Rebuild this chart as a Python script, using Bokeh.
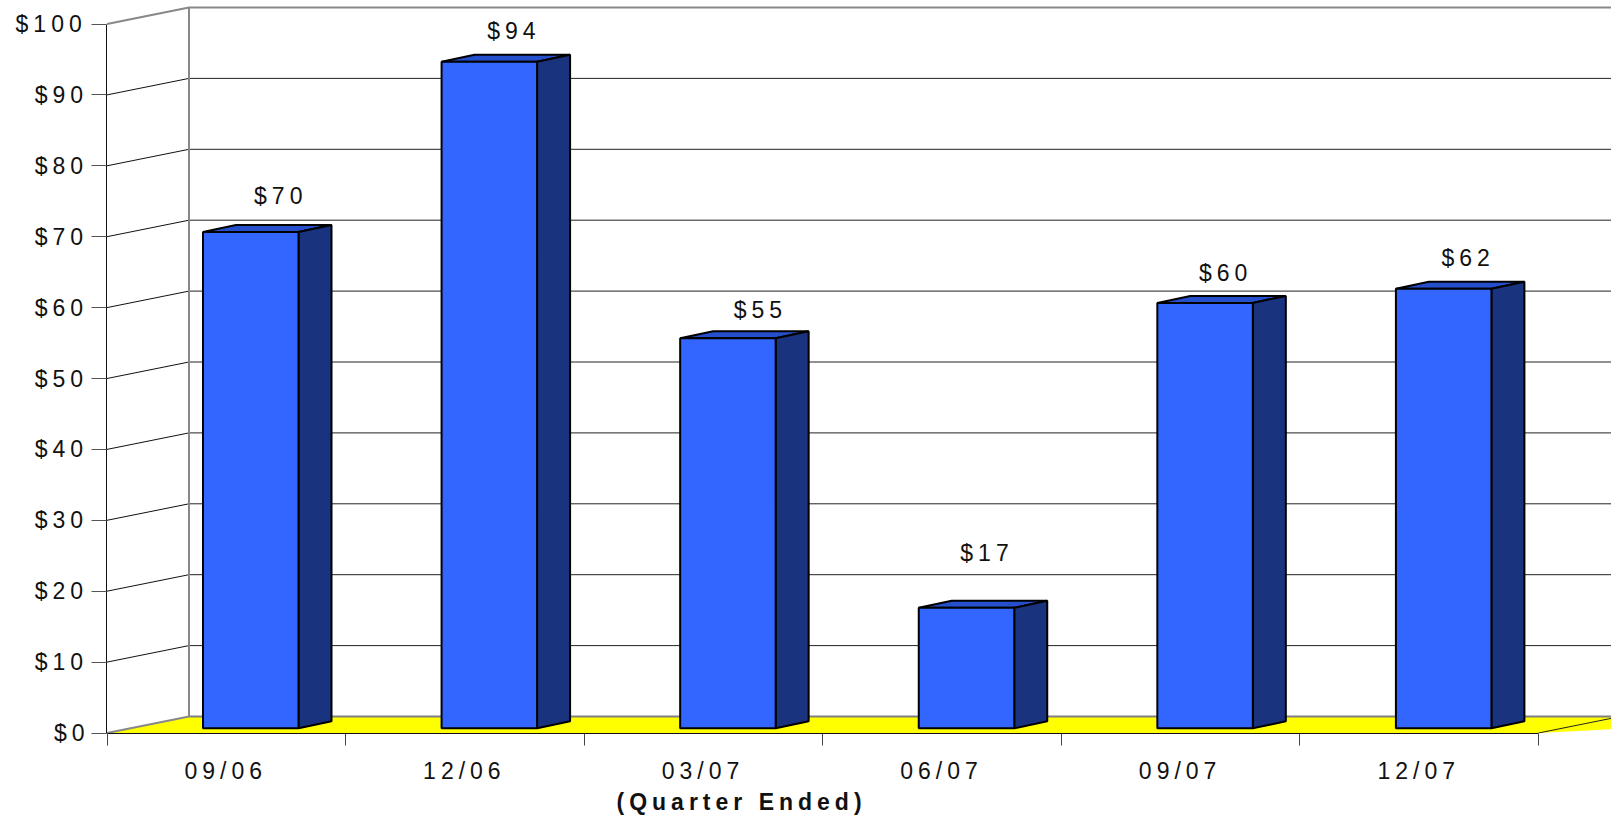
from bokeh.embed import file_html
from bokeh.models import ColumnDataSource, FixedTicker, Range1d, Title
from bokeh.plotting import figure
from bokeh.resources import INLINE
from bokeh.core.properties import value

# Quarterly values, in dollars
quarters = ["09/06", "12/06", "03/07", "06/07", "09/07", "12/07"]
amounts = [70, 94, 55, 17, 60, 62]
value_ticks = [0, 10, 20, 30, 40, 50, 60, 70, 80, 90, 100]

# Page geometry and the oblique projection, in screen pixels
W, H = 1611, 818
LEFT, BASE, TOP = 106.5, 732.5, 23.5
PX_X = (1538.0 - LEFT) / 6
PX_Y = (BASE - TOP) / 100
WALL_DX, WALL_DY = 82 / PX_X, 16.5 / PX_Y
BAR_DX, BAR_DY = 33 / PX_X, 7 / PX_Y
BAR_X0, BAR_W, BAR_Y0 = 96 / PX_X, 95.5 / PX_X, 4.7 / PX_Y
FONT = "Liberation Sans"
FONT_SIZE = "23px"
TRACKING = 5
INK = "#111111"

p = figure(
    width=W, height=H, output_backend="svg", toolbar_location=None,
    x_range=Range1d(0 - 0.5 / PX_X, (W - LEFT) / PX_X),
    y_range=Range1d(0 - 0.5 / PX_Y, 100 + TOP / PX_Y),
    min_border_left=106, min_border_right=0, min_border_top=0, min_border_bottom=85,
)
p.outline_line_color = None
p.grid.visible = False
p.styles = {"letter-spacing": f"{TRACKING}px"}

x_end = (W - LEFT) / PX_X

# Floor
p.patch([0, WALL_DX, x_end + 1, 6], [0, WALL_DY, WALL_DY, 0], fill_color="#ffff00", line_color=None)
p.line([6, 6 + WALL_DX * 1.1], [0, WALL_DY * 1.1], line_color="#222222", line_width=1)

# Side wall and back wall rules
for v in value_ticks[1:-1]:
    p.line([0, WALL_DX], [v, v + WALL_DY], line_color="#111111", line_width=1)
    p.line([WALL_DX, x_end], [v + WALL_DY, v + WALL_DY], line_color="#222222", line_width=1)
p.line([0, WALL_DX], [0, WALL_DY], line_color="#888888", line_width=2)
p.line([0, WALL_DX, x_end], [100, 100 + WALL_DY, 100 + WALL_DY], line_color="#888888", line_width=2)
p.line([WALL_DX, WALL_DX], [WALL_DY, 100 + WALL_DY], line_color="#888888", line_width=2)
p.line([WALL_DX, x_end], [WALL_DY, WALL_DY], line_color="#808080", line_width=2)

# Bars: front face, top face and side face
lefts = [i + BAR_X0 for i in range(len(amounts))]
rights = [x + BAR_W for x in lefts]
tops = [BAR_Y0 + a for a in amounts]

p.patches(
    [[x, x + BAR_DX, r + BAR_DX, r] for x, r in zip(lefts, rights)],
    [[t, t + BAR_DY, t + BAR_DY, t] for t in tops],
    fill_color="#264fcc", line_color="#000000", line_width=2,
)
p.patches(
    [[r, r + BAR_DX, r + BAR_DX, r] for r in rights],
    [[BAR_Y0, BAR_Y0 + BAR_DY, t + BAR_DY, t] for t in tops],
    fill_color="#19337f", line_color="#000000", line_width=2,
)
p.quad(left=lefts, right=rights, bottom=BAR_Y0, top=tops,
       fill_color="#3366ff", line_color="#000000", line_width=2)

# Value labels sit freely above the bars
nudge_x = [22.5, 17, 25, 13, 13, 17]
nudge_y = [-36, -31, -28, -55, -30, -31]
bar_labels = ColumnDataSource(dict(
    x=[x + BAR_W / 2 for x in lefts], y=tops,
    text=[f"${a}" for a in amounts], dx=nudge_x, dy=nudge_y,
))
p.text("x", "y", text="text", source=bar_labels, x_offset="dx", y_offset="dy",
       text_align="center", text_baseline="middle", text_color=INK,
       text_font=value(FONT), text_font_size=FONT_SIZE)

# Value axis: the trailing spaces keep the tracked labels flush right
yaxis = p.yaxis[0]
yaxis.ticker = FixedTicker(ticks=value_ticks)
yaxis.bounds = (0, 100)
yaxis.major_label_overrides = {v: f"${v}" + " " * (len(str(v)) - 1) for v in value_ticks}
yaxis.major_tick_in = 0
yaxis.major_tick_out = 15
yaxis.minor_tick_in = 0
yaxis.minor_tick_out = 0
yaxis.major_tick_line_color = "#555555"
yaxis.axis_line_color = "#111111"
yaxis.major_label_text_font = FONT
yaxis.major_label_text_font_size = FONT_SIZE
yaxis.major_label_text_color = INK
yaxis.major_label_standoff = 12

# Category axis: rule ticks between quarters, labels centred in each slot
LABEL_SHIFT = 13 / PX_X
xaxis = p.xaxis[0]
xaxis.ticker = FixedTicker(ticks=[i + 0.5 - LABEL_SHIFT for i in range(6)], minor_ticks=list(range(7)))
xaxis.bounds = (0, 6)
xaxis.major_label_overrides = {i + 0.5 - LABEL_SHIFT: q for i, q in enumerate(quarters)}
xaxis.major_tick_in = 0
xaxis.major_tick_out = 0
xaxis.minor_tick_in = 0
xaxis.minor_tick_out = 12
xaxis.minor_tick_line_color = "#444444"
xaxis.axis_line_color = "#111111"
xaxis.major_label_text_font = FONT
xaxis.major_label_text_font_size = FONT_SIZE
xaxis.major_label_text_color = INK
xaxis.major_label_standoff = 12

p.add_layout(Title(
    text="(Quarter Ended)", align="left", offset=510, standoff=4, vertical_align="top",
    text_color=INK, text_font=FONT, text_font_size=FONT_SIZE, text_font_style="bold",
), "below")

open("out.html", "w").write(file_html(p, INLINE))
